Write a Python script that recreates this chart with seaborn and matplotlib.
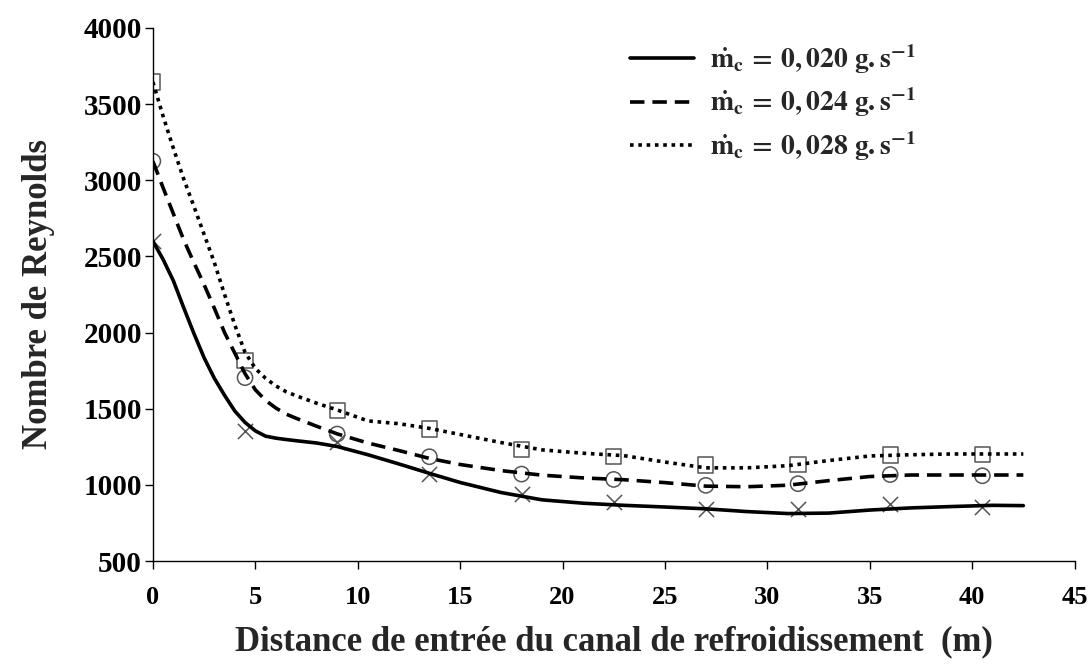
import matplotlib
matplotlib.use('Agg')
import matplotlib.pyplot as plt
import seaborn as sns

# marker points (x = 0 .. 40.5 m, every 4.5 m)
x_pts = [0, 4.5, 9, 13.5, 18, 22.5, 27, 31.5, 36, 40.5]
re_020_pts = [2600, 1356, 1283, 1071, 940, 885, 839, 839, 872, 857]
re_024_pts = [3125, 1704, 1334, 1185, 1071, 1036, 997, 1008, 1068, 1060]
re_028_pts = [3645, 1815, 1490, 1367, 1235, 1187, 1130, 1135, 1196, 1199]

# smoothed curves
x_curve = [0, 0.5, 1, 1.5, 2, 2.5, 3, 3.5, 4, 4.5, 5, 5.5, 6, 6.5, 7, 8, 9,
           10.5, 12, 13.5, 15, 17, 19, 21, 23, 25, 27, 29, 31, 33, 35, 37, 39,
           41, 42.5]
re_020_curve = [2600, 2480, 2340, 2165, 1995, 1835, 1700, 1588, 1485, 1410, 1355,
                1320, 1307, 1298, 1290, 1275, 1252,
                1198, 1138, 1076, 1016, 950, 902, 880, 866, 855, 843, 825, 812,
                815, 835, 849, 858, 866, 864]
re_024_curve = [3125, 2950, 2780, 2610, 2460, 2315, 2160, 2000, 1865, 1730, 1625,
                1555, 1505, 1465, 1437, 1385, 1335,
                1275, 1226, 1174, 1134, 1094, 1064, 1046, 1034, 1015, 992, 988,
                998, 1028, 1055, 1065, 1065, 1065, 1065]
re_028_curve = [3645, 3420, 3210, 3010, 2830, 2645, 2460, 2250, 2050, 1870, 1765,
                1700, 1650, 1612, 1585, 1536, 1492,
                1420, 1402, 1371, 1331, 1278, 1230, 1208, 1192, 1150, 1112, 1112,
                1126, 1160, 1190, 1198, 1203, 1203, 1203]

labels = [r'$\dot{m}_c\,=\,0,020\ g.s^{-1}$',
          r'$\dot{m}_c\,=\,0,024\ g.s^{-1}$',
          r'$\dot{m}_c\,=\,0,028\ g.s^{-1}$']

sns.set_theme(style='ticks')
plt.rcParams['font.family'] = ['Liberation Serif', 'DejaVu Serif']
plt.rcParams['font.weight'] = 'bold'
plt.rcParams['mathtext.fontset'] = 'stix'
plt.rcParams['mathtext.default'] = 'bf'

fig = plt.figure(figsize=(10.92, 6.64), dpi=100)
ax = fig.add_axes([0.140, 0.155, 0.844, 0.803])

curves = [re_020_curve, re_024_curve, re_028_curve]
points = [re_020_pts, re_024_pts, re_028_pts]
styles = ['-', (0, (4, 2.2)), (0, (1, 1.3))]
markers = ['x', 'o', 's']

for curve, pts, ls, mk, lab in zip(curves, points, styles, markers, labels):
    sns.scatterplot(x=x_pts, y=pts, ax=ax, marker=mk, s=120,
                    facecolor='none' if mk != 'x' else '#555555',
                    edgecolor='#555555', linewidth=1.1, zorder=2)
    sns.lineplot(x=x_curve, y=curve, ax=ax, color='black', linewidth=2.6,
                 linestyle=ls, label=lab, zorder=3)

ax.set_xlim(0, 45)
ax.set_ylim(500, 4000)
ax.set_xticks(range(0, 46, 5))
ax.set_yticks(range(500, 4001, 500))
ax.tick_params(axis='both', direction='out', length=6, width=1, colors='black')
ax.tick_params(axis='y', labelsize=21, pad=2)
ax.tick_params(axis='x', labelsize=19, pad=12)
for lbl in ax.get_xticklabels() + ax.get_yticklabels():
    lbl.set_fontweight('bold')
for sp in ['top', 'right']:
    ax.spines[sp].set_visible(False)
for sp in ['left', 'bottom']:
    ax.spines[sp].set_color('black')
    ax.spines[sp].set_linewidth(1)

ax.set_xlabel('Distance de entrée du canal de refroidissement  (m)', fontsize=25,
              fontweight='bold', labelpad=12)
ax.set_ylabel('Nombre de Reynolds', fontsize=25, fontweight='bold', labelpad=20)

leg = ax.legend(loc='upper right', bbox_to_anchor=(0.855, 1.02), frameon=False,
                fontsize=20, handlelength=2.3, handletextpad=0.6, labelspacing=0.35)

fig.savefig('out.png', dpi=100)
